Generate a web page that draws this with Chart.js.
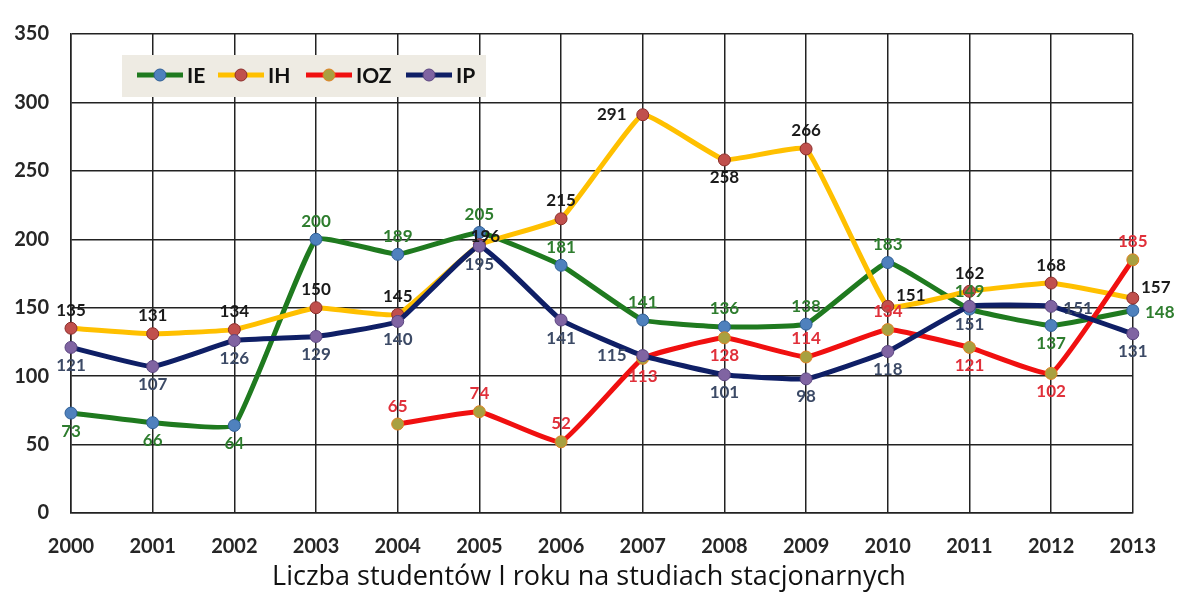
<!DOCTYPE html>
<html>
<head>
<meta charset="utf-8">
<script src="https://cdn.jsdelivr.net/npm/chart.js@4"></script>
<style>
  body { margin: 0; background: #fff; }
</style>
</head>
<body>
<canvas id="myChart" width="1178" height="594"></canvas>
<script>
const years = ['2000', '2001', '2002', '2003', '2004', '2005', '2006', '2007', '2008', '2009', '2010', '2011', '2012', '2013'];
const ie = [73, 66, 64, 200, 189, 205, 181, 141, 136, 138, 183, 149, 137, 148];
const ih = [135, 131, 134, 150, 145, 196, 215, 291, 258, 266, 151, 162, 168, 157];
const ioz = [null, null, null, null, 65, 74, 52, 113, 128, 114, 134, 121, 102, 185];
const ip = [121, 107, 126, 129, 140, 195, 141, 115, 101, 98, 118, 151, 151, 131];
const yMax = 350;
const yStep = 50;
const chartTitle = 'Liczba studentów I roku na studiach stacjonarnych';

// where each value label sits around its point (a above, b below, l left, r right)
const posIE = ['b', 'b', 'b', 'a', 'a', 'a', 'a', 'a', 'a', 'a', 'a', 'a', 'b', 'r'];
const posIH = ['a', 'a', 'a', 'a', 'a', 'c', 'a', 'l', 'b', 'a', 'ru', 'a', 'a', 'ru'];
const posIOZ = ['a', 'a', 'a', 'a', 'a', 'a', 'a', 'b', 'b', 'a', 'a', 'b', 'b', 'a'];
const posIP = ['b', 'b', 'b', 'b', 'b', 'b', 'b', 'l', 'b', 'b', 'b', 'b', 'r', 'b'];

const offsets = {
  a: [0, -18], b: [0, 18], l: [-31, 0], r: [27, 2], ru: [23, -11], c: [6, -8]
};

const valueLabels = {
  id: 'valueLabels',
  afterDatasetsDraw(chart) {
    const c = chart.ctx;
    // legend box inside the plot
    c.save();
    c.fillStyle = '#eeebe3';
    c.fillRect(122, 55, 364, 42);
    const items = [[137, 'IE', 0], [218, 'IH', 1], [306, 'IOZ', 2], [406, 'IP', 3]];
    items.forEach(([x, name, i]) => {
      const ds = chart.data.datasets[i];
      c.strokeStyle = ds.borderColor;
      c.lineWidth = 5;
      c.beginPath();
      c.moveTo(x, 75);
      c.lineTo(x + 46, 75);
      c.stroke();
      c.beginPath();
      c.arc(x + 23, 75, 6, 0, Math.PI * 2);
      c.fillStyle = ds.pointBackgroundColor;
      c.fill();
      c.lineWidth = 1;
      c.strokeStyle = ds.pointBorderColor;
      c.stroke();
      c.fillStyle = '#111';
      c.font = 'bold 21px Lato';
      c.textAlign = 'left';
      c.textBaseline = 'middle';
      c.fillText(name, x + 50, 76);
    });
    c.restore();

    c.save();
    c.font = 'bold 17px Lato';
    c.textAlign = 'center';
    c.textBaseline = 'middle';
    chart.data.datasets.forEach((ds, i) => {
      const meta = chart.getDatasetMeta(i);
      meta.data.forEach((pt, j) => {
        const v = ds.data[j];
        if (v === null) return;
        const off = offsets[ds.labelPos[j]];
        c.fillStyle = ds.labelColor;
        c.fillText(String(v), pt.x + off[0], pt.y + off[1]);
      });
    });
    c.restore();
  },
  afterDraw(chart) {
    // caption under the chart, centred on the whole picture
    const c = chart.ctx;
    c.save();
    c.font = '27px "Open Sans"';
    c.fillStyle = '#111';
    c.textAlign = 'center';
    c.textBaseline = 'middle';
    c.fillText(chartTitle, chart.width / 2, 577);
    c.restore();
  }
};

const ctx = document.getElementById('myChart');

const myChart = new Chart(ctx, {
  type: 'line',
  data: {
    labels: years,
    datasets: [{
      label: 'IE',
      data: ie,
      borderColor: '#1f7a1f',
      pointBackgroundColor: '#4f81bd',
      pointBorderColor: '#2f5f96',
      labelColor: '#2e7d2e',
      labelPos: posIE,
      order: 3
    }, {
      label: 'IH',
      data: ih,
      borderColor: '#ffc000',
      pointBackgroundColor: '#c0504d',
      pointBorderColor: '#8c2e2b',
      labelColor: '#1a1a1a',
      labelPos: posIH,
      order: 2
    }, {
      label: 'IOZ',
      data: ioz,
      borderColor: '#f01010',
      pointBackgroundColor: '#a8a040',
      pointBorderColor: '#e08020',
      labelColor: '#e0303a',
      labelPos: posIOZ,
      order: 1
    }, {
      label: 'IP',
      data: ip,
      borderColor: '#0f1f66',
      pointBackgroundColor: '#8064a2',
      pointBorderColor: '#5a4580',
      labelColor: '#3c4a66',
      labelPos: posIP,
      order: 0
    }]
  },
  options: {
    responsive: false,
    animation: false,
    spanGaps: false,
    layout: { padding: { left: 0, right: 44, top: 22, bottom: 34 } },
    elements: {
      line: { borderWidth: 5, tension: 0.1 },
      point: { radius: 6, borderWidth: 1 }
    },
    scales: {
      x: {
        offset: false,
        grid: { color: '#222', lineWidth: 1.5, drawTicks: false },
        border: { color: '#222', width: 1.5 },
        ticks: { color: '#262626', font: { family: 'Lato', size: 20, weight: 'bold' }, padding: 22, maxRotation: 0 },
        afterFit(scale) { scale.height = 47; }
      },
      y: {
        min: 0,
        max: yMax,
        grid: { color: '#222', lineWidth: 1.5, drawTicks: false },
        border: { color: '#222', width: 1.5 },
        ticks: { stepSize: yStep, color: '#262626', font: { family: 'Lato', size: 20, weight: 'bold' }, padding: 22 },
        afterFit(scale) { scale.width = 71; }
      }
    },
    plugins: {
      legend: { display: false },
      tooltip: { enabled: false },
      title: { display: false }
    }
  },
  plugins: [valueLabels]
});
</script>
</body>
</html>
